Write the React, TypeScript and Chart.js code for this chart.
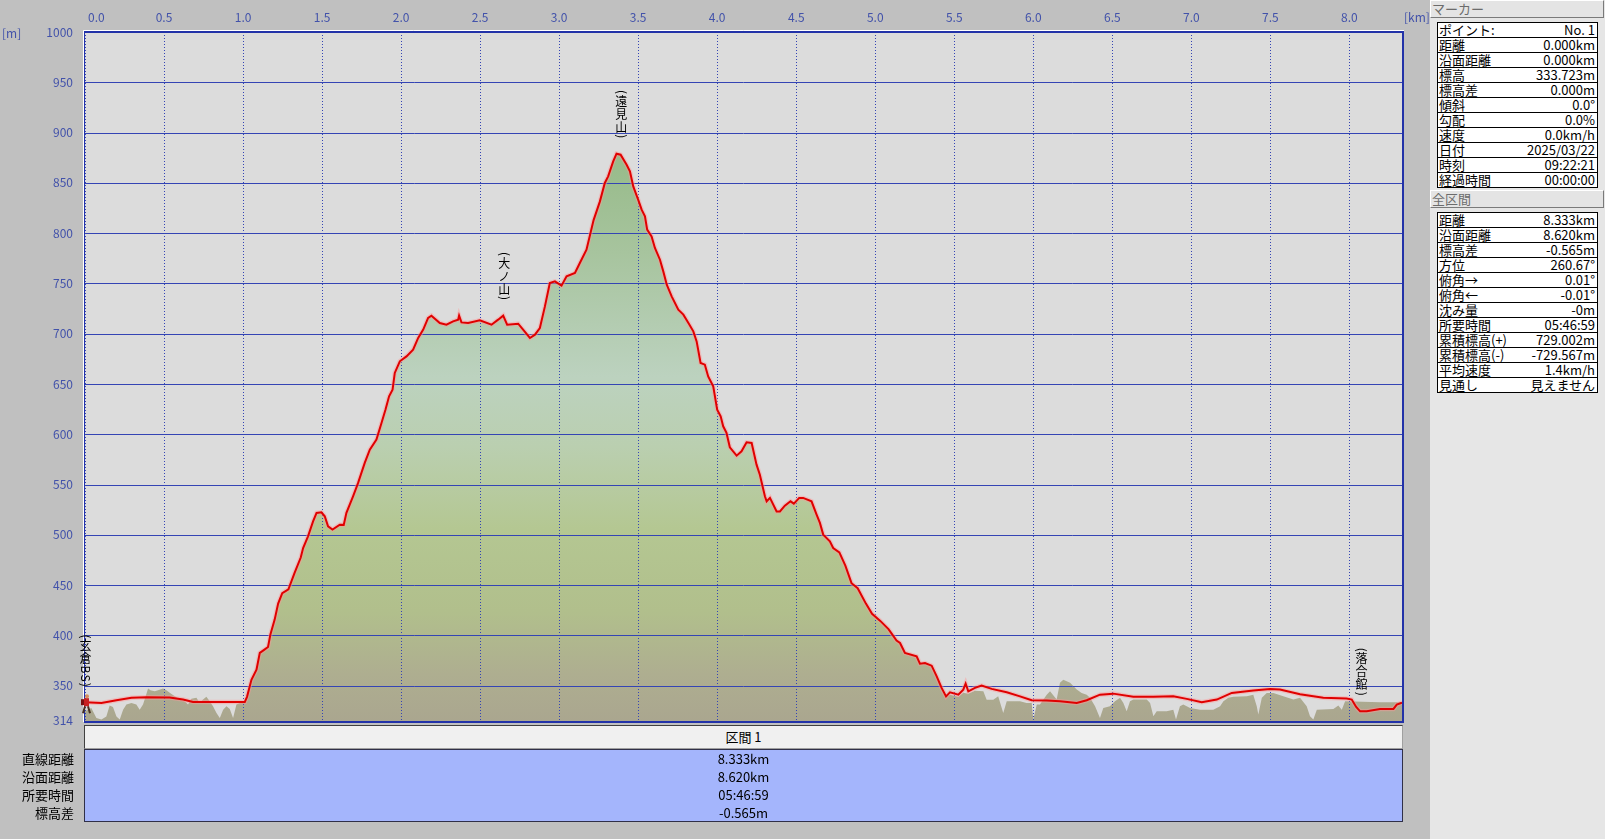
import React, { useEffect, useRef } from "react";
import { Chart, registerables } from "chart.js";

Chart.register(...registerables);

// ---------- data ----------
const trackKm = [
  0.0, 0.104, 0.199, 0.294, 0.389, 0.536, 0.62, 0.684, 0.85, 1.011,
  1.025, 1.053, 1.085, 1.106, 1.131, 1.158, 1.173, 1.2, 1.222, 1.248,
  1.287, 1.326, 1.365, 1.38, 1.411, 1.443, 1.465, 1.496, 1.517, 1.538,
  1.566, 1.612, 1.637, 1.654, 1.696, 1.728, 1.77, 1.802, 1.844, 1.876,
  1.901, 1.924, 1.946, 1.96, 1.992, 2.034, 2.076, 2.108, 2.14, 2.171,
  2.192, 2.245, 2.287, 2.329, 2.361, 2.367, 2.382, 2.424, 2.498, 2.572,
  2.614, 2.646, 2.671, 2.741, 2.772, 2.815, 2.847, 2.878, 2.91, 2.941,
  2.973, 3.015, 3.047, 3.1, 3.131, 3.173, 3.218, 3.258, 3.289, 3.31,
  3.342, 3.363, 3.389, 3.427, 3.448, 3.469, 3.5, 3.522, 3.543, 3.557,
  3.585, 3.606, 3.638, 3.659, 3.681, 3.712, 3.754, 3.786, 3.818, 3.849,
  3.87, 3.895, 3.922, 3.943, 3.975, 4.0, 4.022, 4.038, 4.059, 4.08,
  4.123, 4.154, 4.186, 4.218, 4.249, 4.27, 4.302, 4.313, 4.334, 4.376,
  4.397, 4.428, 4.464, 4.485, 4.519, 4.544, 4.597, 4.629, 4.65, 4.671,
  4.713, 4.734, 4.773, 4.811, 4.85, 4.889, 4.941, 4.98, 5.032, 5.084,
  5.135, 5.157, 5.188, 5.262, 5.283, 5.315, 5.357, 5.389, 5.42, 5.448,
  5.473, 5.526, 5.557, 5.572, 5.589, 5.631, 5.673, 5.737, 5.832, 5.916,
  5.99, 6.085, 6.169, 6.275, 6.338, 6.422, 6.506, 6.633, 6.76, 6.886,
  6.971, 7.066, 7.161, 7.256, 7.392, 7.498, 7.561, 7.688, 7.835, 7.983,
  8.015, 8.043, 8.068, 8.11, 8.194, 8.279, 8.3, 8.333,
];
const trackM = [
  333.7, 333.0, 335.6, 338.0, 338.6, 338.3, 336.3, 334.0, 334.0, 334.0,
  339.0, 356.0, 366.0, 382.7, 385.5, 388.6, 401.0, 415.8, 431.7, 442.0,
  446.0, 462.3, 477.5, 487.0, 498.6, 513.5, 521.9, 522.5, 518.5, 508.5,
  505.3, 510.2, 510.0, 521.9, 538.4, 551.7, 571.6, 584.8, 594.7, 611.3,
  624.5, 637.8, 644.4, 661.0, 672.6, 677.5, 684.2, 695.8, 704.1, 715.7,
  718.0, 710.7, 709.0, 712.3, 714.0, 718.0, 711.3, 710.7, 713.3, 709.0,
  714.0, 718.0, 709.0, 710.0, 704.1, 695.8, 699.1, 705.7, 727.2, 750.5,
  752.1, 747.8, 757.1, 760.4, 770.4, 783.6, 813.0, 831.6, 849.9, 856.5,
  871.4, 879.0, 878.0, 868.0, 861.4, 846.5, 833.3, 823.4, 816.7, 803.5,
  796.8, 785.3, 773.6, 762.0, 748.8, 737.2, 724.0, 719.0, 710.7, 702.4,
  692.4, 671.0, 669.3, 657.6, 647.7, 624.5, 617.9, 608.0, 601.4, 587.1,
  578.8, 583.1, 592.0, 591.4, 569.9, 559.9, 538.4, 533.4, 536.8, 523.4,
  523.4, 529.1, 533.4, 531.1, 536.8, 536.8, 533.4, 520.2, 511.9, 500.3,
  493.6, 487.0, 482.7, 469.5, 452.0, 447.0, 431.7, 421.6, 414.5, 406.3,
  395.0, 392.6, 382.7, 379.3, 372.0, 372.7, 370.0, 359.4, 347.9, 339.5,
  343.5, 341.2, 346.2, 352.2, 344.5, 347.9, 350.2, 346.9, 343.5, 339.5,
  335.6, 335.3, 334.6, 333.0, 335.6, 341.2, 342.2, 339.0, 339.0, 339.5,
  337.0, 333.6, 336.3, 342.9, 345.2, 346.9, 346.2, 341.5, 338.0, 337.3,
  336.3, 329.0, 324.6, 324.6, 327.0, 327.0, 331.3, 333.2,
];

// ground (terrain) profile where it differs from the track
const groundWestKm = [
  0.0, 0.04, 0.072, 0.104, 0.135, 0.156, 0.177, 0.199, 0.22, 0.241,
  0.262, 0.294, 0.325, 0.346, 0.367, 0.384, 0.399, 0.414, 0.441, 0.462,
  0.494, 0.515, 0.536, 0.568, 0.599, 0.631, 0.652, 0.673, 0.705, 0.726,
  0.747, 0.768, 0.789, 0.81, 0.832, 0.853, 0.874, 0.895, 0.916, 0.937,
  0.958, 0.979, 1.0,
];
const groundWestM = [
  324.6, 328.0, 318.0, 316.4, 319.4, 330.3, 329.0, 319.4, 316.4, 326.3,
  331.3, 333.0, 331.3, 326.3, 331.3, 339.5, 347.2, 345.5, 344.5, 345.5,
  347.2, 345.5, 343.0, 339.5, 336.3, 334.6, 331.3, 337.0, 338.0, 333.0,
  336.3, 339.0, 334.6, 329.6, 323.0, 318.0, 326.3, 329.6, 327.0, 318.0,
  331.3, 333.0, 334.0,
];
const groundEastKm = [
  5.473, 5.526, 5.557, 5.589, 5.631, 5.684, 5.705, 5.747, 5.778, 5.81,
  5.832, 5.916, 5.958, 5.99, 6.0, 6.022, 6.042, 6.085, 6.106, 6.148,
  6.169, 6.19, 6.233, 6.275, 6.306, 6.338, 6.359, 6.391, 6.422, 6.443,
  6.485, 6.517, 6.549, 6.57, 6.591, 6.612, 6.633, 6.675, 6.718, 6.739,
  6.76, 6.781, 6.844, 6.886, 6.903, 6.928, 6.949, 6.992, 7.055, 7.139,
  7.182, 7.203, 7.234, 7.266, 7.351, 7.392, 7.414, 7.424, 7.446, 7.477,
  7.519, 7.582, 7.646, 7.688, 7.73, 7.751, 7.772, 7.794, 7.899, 7.93,
  7.952, 7.973, 8.194, 8.333,
];
const groundEastM = [
  341.0, 339.0, 343.0, 342.0, 345.0, 344.5, 336.0, 336.0, 339.5, 323.0,
  334.6, 334.6, 333.0, 333.0, 316.4, 331.3, 331.3, 341.2, 344.5, 336.3,
  352.9, 356.1, 352.9, 346.2, 342.9, 341.2, 338.0, 329.6, 318.0, 328.0,
  329.6, 334.6, 338.0, 333.0, 324.6, 334.6, 336.3, 336.3, 336.3, 333.0,
  319.7, 324.6, 324.6, 326.3, 316.4, 329.6, 331.3, 328.0, 326.3, 326.3,
  329.6, 334.6, 338.0, 339.0, 339.5, 341.2, 329.6, 321.4, 338.0, 342.9,
  342.9, 339.5, 336.3, 338.0, 329.6, 319.7, 316.4, 326.3, 327.0, 330.3,
  326.3, 334.6, 333.6, 333.6,
];

const xTicks = [0, 0.5, 1, 1.5, 2, 2.5, 3, 3.5, 4, 4.5, 5, 5.5, 6, 6.5, 7, 7.5, 8];
const xTickLabels = ["0.0", "0.5", "1.0", "1.5", "2.0", "2.5", "3.0", "3.5", "4.0", "4.5", "5.0", "5.5", "6.0", "6.5", "7.0", "7.5", "8.0"];
const yTicks = [1000, 950, 900, 850, 800, 750, 700, 650, 600, 550, 500, 450, 400, 350, 314];
const X_MIN = 0, X_MAX = 8.333, Y_MIN = 314, Y_MAX = 1000;

const waypointNames = ["玄倉BS", "大ノ山", "遠見山", "落合館"];
const waypointKm = [0.0, 2.65, 3.39, 8.074];
const waypointM = [333.7, 718, 879, 324.6];

const markerRows: [string, string][] = [
  ["ポイント:", "No. 1"], ["距離", "0.000km"], ["沿面距離", "0.000km"], ["標高", "333.723m"],
  ["標高差", "0.000m"], ["傾斜", "0.0°"], ["勾配", "0.0%"], ["速度", "0.0km/h"],
  ["日付", "2025/03/22"], ["時刻", "09:22:21"], ["経過時間", "00:00:00"],
];
const sectionRows: [string, string][] = [
  ["距離", "8.333km"], ["沿面距離", "8.620km"], ["標高差", "-0.565m"], ["方位", "260.67°"],
  ["俯角→", "0.01°"], ["俯角←", "-0.01°"], ["沈み量", "-0m"], ["所要時間", "05:46:59"],
  ["累積標高(+)", "729.002m"], ["累積標高(-)", "-729.567m"], ["平均速度", "1.4km/h"], ["見通し", "見えません"],
];
const intervalTitle = "区間 1";
const intervalLabels = ["直線距離", "沿面距離", "所要時間", "標高差"];
const intervalValues = ["8.333km", "8.620km", "05:46:59", "-0.565m"];

// ---------- styles ----------
const FONT = '"Noto Sans CJK JP", "Noto Sans", sans-serif';
const PAGE_BG = "#c0c0c0";
const PLOT_BG = "#dcdcdc";
const GRID = "#3444b4";
const AXIS_TXT = "#4252aa";

function drawVertical(ctx: CanvasRenderingContext2D, text: string, cx: number, bottom: number) {
  ctx.font = `12px ${FONT}`;
  ctx.fillStyle = "#000";
  ctx.textAlign = "center";
  ctx.textBaseline = "middle";
  const glyphs = Array.from("(" + text + ")").map((ch) => {
    const rot = /[\x00-\x7f]/.test(ch);
    const h = rot ? ctx.measureText(ch).width + 1 : 13;
    return { ch, rot, h };
  });
  const total = glyphs.reduce((s, g) => s + g.h, 0);
  let y = bottom - total;
  for (const g of glyphs) {
    ctx.save();
    ctx.translate(cx, y + g.h / 2);
    if (g.rot) ctx.rotate(Math.PI / 2);
    ctx.fillText(g.ch, 0, 0);
    ctx.restore();
    y += g.h;
  }
}

function drawHiker(ctx: CanvasRenderingContext2D, x: number, y: number) {
  ctx.save();
  ctx.strokeStyle = "#4a3020";
  ctx.lineWidth = 2;
  ctx.beginPath();
  ctx.moveTo(x - 1, y + 2); ctx.lineTo(x - 3, y + 9);
  ctx.moveTo(x + 2, y + 2); ctx.lineTo(x + 4, y + 9);
  ctx.stroke();
  ctx.fillStyle = "#7a1010";
  ctx.fillRect(x - 5, y - 5, 3, 6);
  ctx.fillStyle = "#c82020";
  ctx.fillRect(x - 2, y - 6, 5, 8);
  ctx.fillStyle = "#d89060";
  ctx.beginPath();
  ctx.arc(x + 1, y - 8, 2, 0, Math.PI * 2);
  ctx.fill();
  ctx.restore();
}

const decoPlugin = {
  id: "deco",
  beforeDraw(chart: any) {
    const { ctx, chartArea: a, width, height } = chart;
    ctx.save();
    ctx.fillStyle = PAGE_BG;
    ctx.fillRect(0, 0, width, height);
    ctx.fillStyle = PLOT_BG;
    ctx.fillRect(a.left, a.top, a.right - a.left, a.bottom - a.top);
    ctx.restore();
  },
  beforeDatasetDraw(chart: any, args: any) {
    if (args.index !== 1) return;
    const { ctx, chartArea: a, scales } = chart;
    const xs = scales.x, ys = scales.y;
    ctx.save();
    ctx.beginPath();
    ctx.rect(a.left, a.top, a.right - a.left, a.bottom - a.top);
    ctx.clip();
    ctx.strokeStyle = GRID;
    ctx.lineWidth = 1;
    for (const v of yTicks) {
      const py = Math.round(ys.getPixelForValue(v)) + 0.5;
      ctx.beginPath();
      ctx.moveTo(a.left, py);
      ctx.lineTo(a.right, py);
      ctx.stroke();
    }
    ctx.setLineDash([1, 2]);
    for (const v of xTicks) {
      const px = Math.round(xs.getPixelForValue(v)) + 0.5;
      ctx.beginPath();
      ctx.moveTo(px, a.top);
      ctx.lineTo(px, a.bottom);
      ctx.stroke();
    }
    ctx.restore();
  },
  afterDraw(chart: any) {
    const { ctx, chartArea: a, scales } = chart;
    const xs = scales.x, ys = scales.y;
    ctx.save();
    // frame
    ctx.strokeStyle = "#ffffff";
    ctx.lineWidth = 1;
    ctx.beginPath();
    ctx.moveTo(83.5, a.bottom);
    ctx.lineTo(83.5, 30.5);
    ctx.lineTo(a.right + 2, 30.5);
    ctx.stroke();
    ctx.strokeStyle = "#2232a8";
    ctx.lineWidth = 2;
    ctx.beginPath();
    ctx.moveTo(a.left - 1, a.top);
    ctx.lineTo(a.right + 1, a.top);
    ctx.lineTo(a.right + 1, a.bottom);
    ctx.lineTo(a.left - 1, a.bottom);
    ctx.stroke();
    ctx.lineWidth = 1;
    ctx.beginPath();
    ctx.moveTo(84.5, a.top);
    ctx.lineTo(84.5, a.bottom);
    ctx.stroke();

    // axis labels
    ctx.font = `12px ${FONT}`;
    ctx.fillStyle = AXIS_TXT;
    ctx.textBaseline = "middle";
    xTicks.forEach((v, i) => {
      const px = xs.getPixelForValue(v);
      if (i === 0) {
        ctx.textAlign = "left";
        ctx.fillText(xTickLabels[i], px + 3, 17);
      } else {
        ctx.textAlign = "center";
        ctx.fillText(xTickLabels[i], px, 17);
      }
    });
    ctx.textAlign = "right";
    for (const v of yTicks) {
      const py = ys.getPixelForValue(v);
      ctx.fillText(String(v), 73, v === Y_MIN ? py - 2 : py);
    }
    ctx.textAlign = "left";
    ctx.fillText("[m]", 2, 33);
    ctx.fillText("[km]", 1404, 17);

    // waypoint labels
    waypointNames.forEach((name, i) => {
      const px = xs.getPixelForValue(waypointKm[i]);
      const py = ys.getPixelForValue(waypointM[i]);
      drawVertical(ctx, name, px + 0.5, py - 15);
    });
    // hiker marker at start
    drawHiker(ctx, xs.getPixelForValue(trackKm[0]) + 1, ys.getPixelForValue(trackM[0]) + 2);
    ctx.restore();
  },
};

function PanelHeader({ top, text }: { top: number; text: string }) {
  return (
    <div
      style={{
        position: "absolute", left: 1430, top, width: 174, height: 18, boxSizing: "border-box",
        background: "#e4e4e4", borderTop: "1px solid #ffffff", borderLeft: "1px solid #ffffff",
        borderRight: "1px solid #7a7a7a", borderBottom: "1px solid #7a7a7a",
        fontSize: 13, lineHeight: "16px", color: "#6c6c6c", paddingLeft: 1, whiteSpace: "nowrap",
      }}
    >
      {text}
    </div>
  );
}

function InfoTable({ top, rows }: { top: number; rows: [string, string][] }) {
  return (
    <div
      style={{
        position: "absolute", left: 1437, top, width: 161, border: "1px solid #000",
        boxSizing: "border-box", background: "#ffffff",
      }}
    >
      {rows.map(([k, v], i) => (
        <div
          key={i}
          style={{
            height: 14, borderTop: i ? "1px solid #000" : "none", display: "flex",
            justifyContent: "space-between", alignItems: "center", padding: "0 2px 0 1px",
            fontSize: 13, lineHeight: "14px", whiteSpace: "nowrap", color: "#000",
          }}
        >
          <span>{k}</span>
          <span>{v}</span>
        </div>
      ))}
    </div>
  );
}

export default function App() {
  const ref = useRef<HTMLCanvasElement | null>(null);

  useEffect(() => {
    if (!ref.current) return;
    const track = trackKm.map((k, i) => ({ x: k, y: trackM[i] }));
    const ground = [
      ...groundWestKm.map((k, i) => ({ x: k, y: groundWestM[i] })),
      ...track.filter((p) => p.x > 1.0 && p.x < 5.46),
      ...groundEastKm.map((k, i) => ({ x: k, y: groundEastM[i] })),
    ];
    const chart = new Chart(ref.current, {
      type: "line",
      data: {
        datasets: [
          {
            label: "ground",
            data: ground,
            order: 3,
            fill: "start",
            borderWidth: 0,
            borderColor: "rgba(0,0,0,0)",
            pointRadius: 0,
            tension: 0,
            backgroundColor: (c: any) => {
              const a = c.chart.chartArea;
              if (!a) return "#b0b090";
              const g = c.chart.ctx.createLinearGradient(0, a.top, 0, a.bottom);
              g.addColorStop(0.0, "#8fb580");
              g.addColorStop(0.17, "#96ba88");
              g.addColorStop(0.32, "#a7c49e");
              g.addColorStop(0.5, "#bcd2bf");
              g.addColorStop(0.6, "#bacfb0");
              g.addColorStop(0.72, "#b4c792");
              g.addColorStop(0.84, "#b1bf8c");
              g.addColorStop(0.93, "#aeae90");
              g.addColorStop(1.0, "#aaa68f");
              return g;
            },
          },
          {
            label: "glow",
            data: track,
            order: 2,
            fill: false,
            borderColor: "rgba(255,150,150,0.45)",
            borderWidth: 4.5,
            pointRadius: 0,
            tension: 0,
          },
          {
            label: "track",
            data: track,
            order: 1,
            fill: false,
            borderColor: "#e00000",
            borderWidth: 2,
            pointRadius: 0,
            tension: 0,
          },
        ],
      },
      options: {
        animation: false,
        responsive: false,
        devicePixelRatio: 1,
        layout: { padding: { left: 85, top: 32, right: 203, bottom: 117 } },
        plugins: { legend: { display: false }, tooltip: { enabled: false } },
        scales: {
          x: { type: "linear", display: false, min: X_MIN, max: X_MAX, ticks: { stepSize: 0.5 } },
          y: { type: "linear", display: false, min: Y_MIN, max: Y_MAX, ticks: { stepSize: 50 } },
        },
      },
      plugins: [decoPlugin],
    } as any);
    return () => chart.destroy();
  }, []);

  return (
    <div
      style={{
        position: "fixed", left: 0, top: 0, width: 1605, height: 839, overflow: "hidden",
        background: PAGE_BG, fontFamily: FONT,
      }}
    >
      <canvas
        ref={ref}
        width={1605}
        height={839}
        style={{ position: "absolute", left: 0, top: 0, width: 1605, height: 839 }}
      />
      <div style={{ position: "absolute", left: 1430, top: 0, width: 175, height: 839, background: "#e6e6e6" }} />
      <PanelHeader top={0} text="マーカー" />
      <InfoTable top={22} rows={markerRows} />
      <PanelHeader top={190} text="全区間" />
      <InfoTable top={212} rows={sectionRows} />

      <div
        style={{
          position: "absolute", left: 84, top: 725, width: 1319, height: 24, boxSizing: "border-box",
          background: "#f0f0f0", borderTop: "1px solid #404040", borderLeft: "1px solid #404040",
          borderRight: "1px solid #a0a0a0", borderBottom: "1px solid #a0a0a0",
          textAlign: "center", fontSize: 13, lineHeight: "22px", color: "#000",
        }}
      >
        {intervalTitle}
      </div>
      <div
        style={{
          position: "absolute", left: 84, top: 749, width: 1319, height: 73, boxSizing: "border-box",
          background: "#a4b5fc", border: "1px solid #303048",
        }}
      >
        {intervalValues.map((v, i) => (
          <div key={i} style={{ height: 18, lineHeight: "18px", textAlign: "center", fontSize: 13, color: "#000" }}>
            {v}
          </div>
        ))}
      </div>
      {intervalLabels.map((t, i) => (
        <div
          key={i}
          style={{
            position: "absolute", left: 0, width: 74, top: 750 + i * 18, height: 18, lineHeight: "18px",
            textAlign: "right", fontSize: 13, color: "#000",
          }}
        >
          {t}
        </div>
      ))}
    </div>
  );
}
